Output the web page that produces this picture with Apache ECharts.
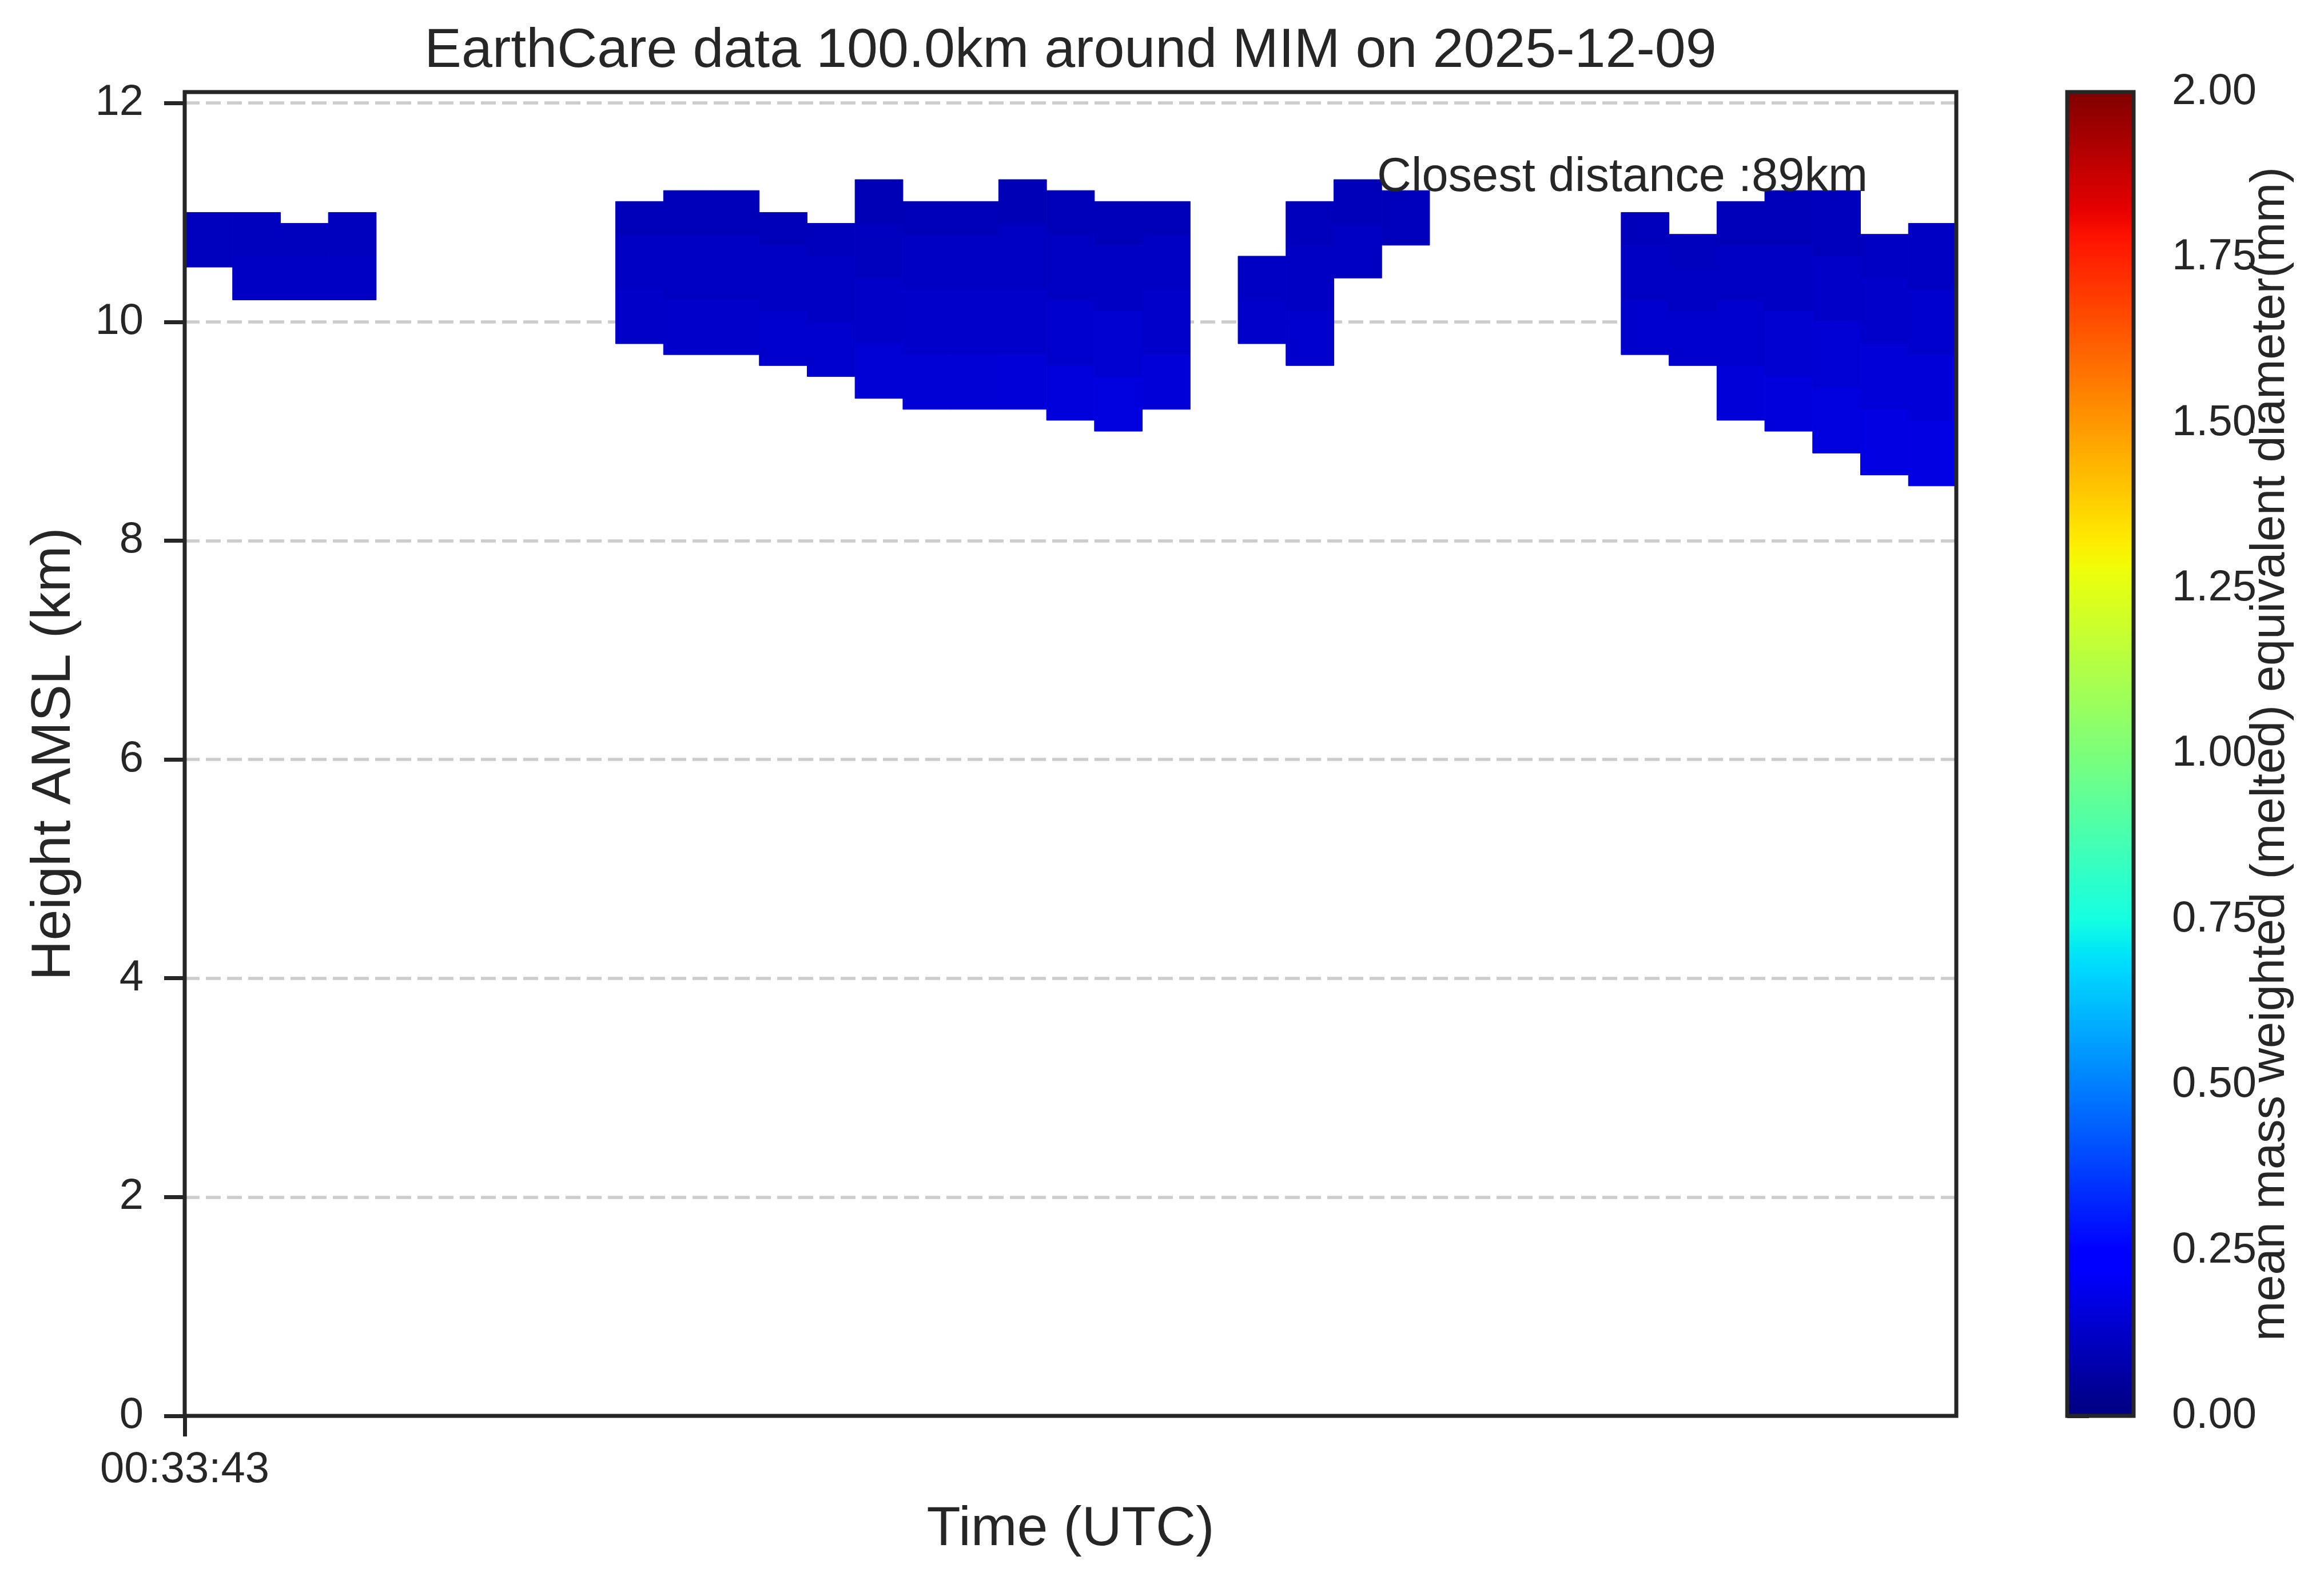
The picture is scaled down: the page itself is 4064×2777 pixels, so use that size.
<!DOCTYPE html>
<html>
<head>
<meta charset="utf-8">
<script src="https://cdn.jsdelivr.net/npm/echarts@6/dist/echarts.min.js"></script>
<style>
html,body{margin:0;padding:0;background:#fff;}
#chart{width:4064px;height:2777px;}
</style>
</head>
<body>
<div id="chart"></div>
<script>
// ---- data ----
const timeLabels = ['00:33:43'];
const nColumns = 37;              // time columns along the track
const yTicks = [0, 2, 4, 6, 8, 10, 12];
const colorbarTicks = [0, 0.25, 0.5, 0.75, 1.0, 1.25, 1.5, 1.75, 2.0];
// each cell band: [column, bottom km, top km, diameter mm]
const cloudA = [
  [0, 10.5, 11.0, 0.11],
  [1, 10.2, 10.6, 0.12], [1, 10.6, 11.0, 0.11],
  [2, 10.2, 10.6, 0.12], [2, 10.6, 10.9, 0.11],
  [3, 10.2, 10.6, 0.12], [3, 10.6, 11.0, 0.11]
];
const cloudB = [
  [9, 9.8, 10.3, 0.125], [9, 10.3, 10.8, 0.115], [9, 10.8, 11.1, 0.10],
  [10, 9.7, 10.2, 0.13], [10, 10.2, 10.8, 0.115], [10, 10.8, 11.2, 0.10],
  [11, 9.7, 10.2, 0.13], [11, 10.2, 10.8, 0.115], [11, 10.8, 11.2, 0.10],
  [12, 9.6, 10.1, 0.135], [12, 10.1, 10.7, 0.12], [12, 10.7, 11.0, 0.10],
  [13, 9.5, 10.0, 0.135], [13, 10.0, 10.6, 0.12], [13, 10.6, 10.9, 0.105],
  [14, 9.3, 9.8, 0.145], [14, 9.8, 10.4, 0.125], [14, 10.4, 10.9, 0.11], [14, 10.9, 11.3, 0.095],
  [15, 9.2, 9.7, 0.145], [15, 9.7, 10.3, 0.13], [15, 10.3, 10.8, 0.115], [15, 10.8, 11.1, 0.10],
  [16, 9.2, 9.7, 0.145], [16, 9.7, 10.3, 0.13], [16, 10.3, 10.8, 0.115], [16, 10.8, 11.1, 0.10],
  [17, 9.2, 9.7, 0.15], [17, 9.7, 10.3, 0.13], [17, 10.3, 10.9, 0.115], [17, 10.9, 11.3, 0.095],
  [18, 9.1, 9.6, 0.16], [18, 9.6, 10.2, 0.135], [18, 10.2, 10.8, 0.115], [18, 10.8, 11.2, 0.10],
  [19, 9.0, 9.5, 0.165], [19, 9.5, 10.1, 0.14], [19, 10.1, 10.7, 0.12], [19, 10.7, 11.1, 0.10],
  [20, 9.2, 9.7, 0.15], [20, 9.7, 10.3, 0.13], [20, 10.3, 10.8, 0.115], [20, 10.8, 11.1, 0.10]
];
const cloudC = [
  [22, 9.8, 10.2, 0.13], [22, 10.2, 10.6, 0.12],
  [23, 9.6, 10.1, 0.135], [23, 10.1, 10.7, 0.12], [23, 10.7, 11.1, 0.105],
  [24, 10.4, 10.9, 0.115], [24, 10.9, 11.3, 0.10],
  [25, 10.7, 11.2, 0.105]
];
const cloudD = [
  [30, 9.7, 10.2, 0.135], [30, 10.2, 10.7, 0.12], [30, 10.7, 11.0, 0.105],
  [31, 9.6, 10.1, 0.135], [31, 10.1, 10.5, 0.12], [31, 10.5, 10.8, 0.11],
  [32, 9.1, 9.6, 0.155], [32, 9.6, 10.2, 0.135], [32, 10.2, 10.7, 0.12], [32, 10.7, 11.1, 0.10],
  [33, 9.0, 9.5, 0.16], [33, 9.5, 10.1, 0.14], [33, 10.1, 10.7, 0.12], [33, 10.7, 11.2, 0.10],
  [34, 8.8, 9.4, 0.165], [34, 9.4, 10.0, 0.145], [34, 10.0, 10.6, 0.125], [34, 10.6, 11.2, 0.105],
  [35, 8.6, 9.2, 0.17], [35, 9.2, 9.8, 0.15], [35, 9.8, 10.4, 0.13], [35, 10.4, 10.8, 0.115],
  [36, 8.5, 9.1, 0.17], [36, 9.1, 9.7, 0.15], [36, 9.7, 10.3, 0.135], [36, 10.3, 10.9, 0.115]
];
const cells = cloudA.concat(cloudB, cloudC, cloudD);

// ---- jet colormap (matplotlib definition) ----
const jetR = [[0, 0], [0.35, 0], [0.66, 1], [0.89, 1], [1, 0.5]];
const jetG = [[0, 0], [0.125, 0], [0.375, 1], [0.64, 1], [0.91, 0], [1, 0]];
const jetB = [[0, 0.5], [0.11, 1], [0.34, 1], [0.65, 0], [1, 0]];
function seg(t, pts) {
  for (let i = 1; i < pts.length; i++) {
    if (t <= pts[i][0]) {
      const f = (t - pts[i - 1][0]) / (pts[i][0] - pts[i - 1][0]);
      return pts[i - 1][1] + f * (pts[i][1] - pts[i - 1][1]);
    }
  }
  return pts[pts.length - 1][1];
}
function jet(t) {
  const c = v => Math.round(Math.max(0, Math.min(1, v)) * 255);
  return 'rgb(' + c(seg(t, jetR)) + ',' + c(seg(t, jetG)) + ',' + c(seg(t, jetB)) + ')';
}
const nSamples = 256;
const jetColors = [];
const jetStops = [];
for (let i = 0; i <= nSamples; i++) {
  const t = i / nSamples;
  jetColors.push(jet(t));
  jetStops.push({offset: t, color: jet(t)});
}

// ---- layout ----
const FONT = "'Liberation Sans', Arial, Helvetica, sans-serif";
const TXT = '#262626';
const plot = {left: 323, top: 161, right: 3421, bottom: 2476};
const cbar = {left: 3615, right: 3731};

const chart = echarts.init(document.getElementById('chart'), null, {renderer: 'canvas'});

const option = {
  backgroundColor: '#ffffff',
  animation: false,
  textStyle: {fontFamily: FONT, color: TXT},
  grid: [
    {left: plot.left, top: plot.top, width: plot.right - plot.left, height: plot.bottom - plot.top, containLabel: false},
    {left: cbar.left, top: plot.top, width: cbar.right - cbar.left, height: plot.bottom - plot.top, containLabel: false}
  ],
  xAxis: [
    {
      type: 'value', gridIndex: 0, min: 0, max: nColumns,
      axisLine: {show: false},
      axisTick: {show: true, customValues: [0], length: 36, lineStyle: {color: TXT, width: 7}},
      axisLabel: {
        show: true, customValues: [0], margin: 57, fontSize: 76, color: TXT, fontFamily: FONT,
        formatter: v => (v === 0 ? timeLabels[0] : '')
      },
      splitLine: {show: false}
    },
    {type: 'value', gridIndex: 1, min: 0, max: 1, show: false}
  ],
  yAxis: [
    {
      type: 'value', gridIndex: 0, min: 0, max: 12.1,
      axisLine: {show: false},
      axisTick: {show: true, customValues: yTicks, length: 36, lineStyle: {color: TXT, width: 7}},
      axisLabel: {show: true, customValues: yTicks, margin: 72, fontSize: 76, color: TXT, fontFamily: FONT},
      splitLine: {show: true, lineStyle: {color: '#cccccc', width: 5.5, type: [26, 11]}}
    },
    {
      type: 'value', gridIndex: 1, position: 'right', min: 0, max: 2, interval: 0.25,
      axisLine: {show: false},
      axisTick: {show: true, length: 38, lineStyle: {color: TXT, width: 7}},
      axisLabel: {show: true, margin: 67, fontSize: 76, color: TXT, fontFamily: FONT, formatter: v => v.toFixed(2)},
      splitLine: {show: false}
    }
  ],
  visualMap: {
    type: 'continuous', show: false, min: 0, max: 2, dimension: 3, seriesIndex: 0,
    inRange: {color: jetColors}
  },
  series: [
    {
      type: 'custom', xAxisIndex: 0, yAxisIndex: 0, clip: true,
      encode: {x: 0, y: [1, 2]},
      data: cells,
      renderItem: function (params, api) {
        const col = api.value(0), lo = api.value(1), hi = api.value(2);
        const a = api.coord([col, hi]);
        const b = api.coord([col + 1, lo]);
        const color = api.visual('color');
        return {
          type: 'rect',
          shape: {x: a[0], y: a[1], width: b[0] - a[0], height: b[1] - a[1]},
          style: {fill: color, stroke: color, lineWidth: 1}
        };
      }
    },
    {
      type: 'custom', xAxisIndex: 1, yAxisIndex: 1,
      data: [[0, colorbarTicks[0], colorbarTicks[colorbarTicks.length - 1]]],
      renderItem: function (params, api) {
        const a = api.coord([0, api.value(2)]);
        const b = api.coord([1, api.value(1)]);
        return {
          type: 'rect',
          shape: {x: a[0], y: a[1], width: b[0] - a[0], height: b[1] - a[1]},
          style: {fill: {type: 'linear', x: 0, y: 1, x2: 0, y2: 0, colorStops: jetStops}}
        };
      }
    }
  ],
  graphic: [
    {
      type: 'text', x: (plot.left + plot.right) / 2, y: 90, z: 100,
      style: {text: 'EarthCare data 100.0km around MIM on 2025-12-09', font: '97px ' + FONT, fill: TXT,
              textAlign: 'center', textVerticalAlign: 'middle'}
    },
    {
      type: 'text', x: (plot.left + plot.right) / 2, y: 2675, z: 100,
      style: {text: 'Time (UTC)', font: '97px ' + FONT, fill: TXT, textAlign: 'center', textVerticalAlign: 'middle'}
    },
    {
      type: 'text', x: 95, y: (plot.top + plot.bottom) / 2, rotation: Math.PI / 2, z: 100,
      style: {text: 'Height AMSL (km)', font: '97px ' + FONT, fill: TXT, textAlign: 'center', textVerticalAlign: 'middle'}
    },
    {
      type: 'text', x: 3971, y: (plot.top + plot.bottom) / 2, rotation: Math.PI / 2, z: 100,
      style: {text: 'mean mass weighted (melted) equivalent diameter(mm)', font: '83px ' + FONT, fill: TXT,
              textAlign: 'center', textVerticalAlign: 'middle'}
    },
    {
      type: 'text', x: 2408, y: 311, z: 100,
      style: {text: 'Closest distance :89km', font: '83px ' + FONT, fill: TXT, textAlign: 'left', textVerticalAlign: 'middle'}
    },
    {
      type: 'rect', z: 90,
      shape: {x: plot.left, y: plot.top, width: plot.right - plot.left, height: plot.bottom - plot.top},
      style: {fill: 'none', stroke: TXT, lineWidth: 7}
    },
    {
      type: 'rect', z: 90,
      shape: {x: cbar.left, y: plot.top, width: cbar.right - cbar.left, height: plot.bottom - plot.top},
      style: {fill: 'none', stroke: TXT, lineWidth: 7}
    }
  ]
};
chart.setOption(option);
</script>
</body>
</html>
